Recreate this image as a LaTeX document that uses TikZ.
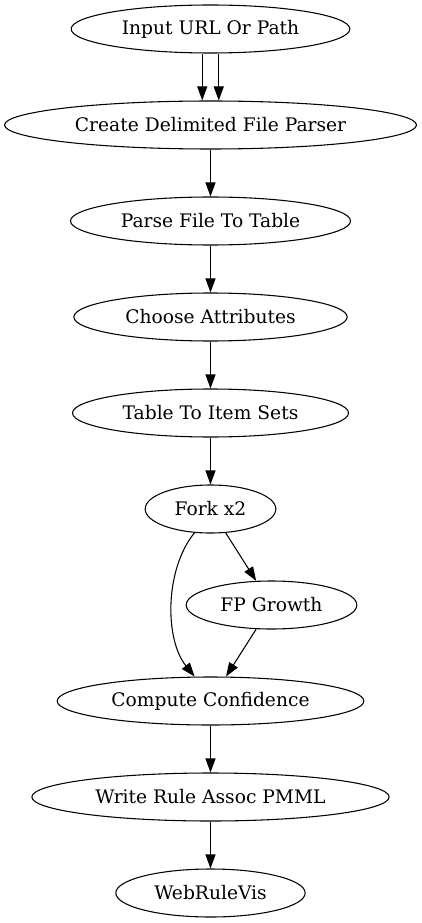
\documentclass[tikz,border=0pt]{standalone}
\usepackage{fontspec}
\setmainfont{DejaVu Serif}
\usetikzlibrary{shapes.geometric,arrows.meta}

\begin{document}
\begin{tikzpicture}[x=0.75pt,y=-0.75pt,
	knoten/.style={draw,ellipse,line width=0.8pt,inner sep=0pt,minimum height=36pt,font=\fontsize{14}{16}\selectfont},
	pfeil/.style={line width=0.8pt,-{Triangle[length=10.5pt,width=7.5pt]}}]
	\useasboundingbox (0,0) rectangle (421,923);
	% Knoten
	\node [knoten,minimum width=209pt] (input) at (210.5,29) {Input URL Or Path};
	\node [knoten,minimum width=309pt] (parser) at (210.5,125) {Create Delimited File Parser};
	\node [knoten,minimum width=210pt] (parse) at (210.5,221) {Parse File To Table};
	\node [knoten,minimum width=205pt] (choose) at (210.5,317) {Choose Attributes};
	\node [knoten,minimum width=207pt] (itemsets) at (210.5,413) {Table To Item Sets};
	\node [knoten,minimum width=98pt] (fork) at (210.5,509) {Fork x2};
	\node [knoten,minimum width=128pt] (fpgrowth) at (271.5,605) {FP Growth};
	\node [knoten,minimum width=230pt] (conf) at (210.5,701) {Compute Confidence};
	\node [knoten,minimum width=268pt] (pmml) at (210.5,797) {Write Rule Assoc PMML};
	\node [knoten,minimum width=142pt] (vis) at (210.5,893) {WebRuleVis};
	% Kanten
	\draw [pfeil] ([xshift=-6.2pt]input.south) -- ([xshift=-6.2pt]parser.north);
	\draw [pfeil] ([xshift=6.2pt]input.south) -- ([xshift=6.2pt]parser.north);
	\draw [pfeil] (parser) -- (parse);
	\draw [pfeil] (parse) -- (choose);
	\draw [pfeil] (choose) -- (itemsets);
	\draw [pfeil] (itemsets) -- (fork);
	%Gabelung
	\draw [pfeil] (fork) -- (fpgrowth);
	\draw [pfeil] (fork.236) .. controls +(-30,37) and +(-30,-37) .. (conf.123);
	\draw [pfeil] (fpgrowth) -- (conf);
	\draw [pfeil] (conf) -- (pmml);
	\draw [pfeil] (pmml) -- (vis);
\end{tikzpicture}
\end{document}
